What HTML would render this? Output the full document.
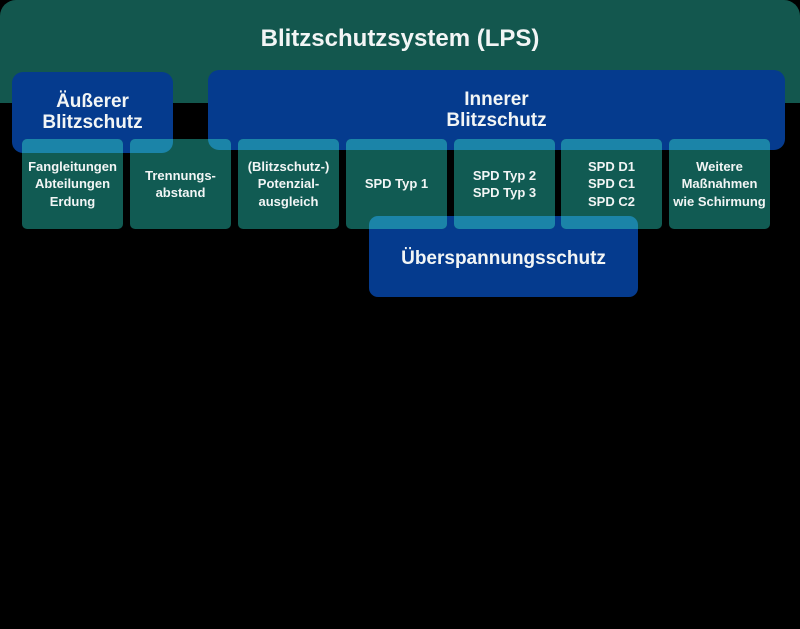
<!DOCTYPE html>
<html><head><meta charset="utf-8">
<style>
html,body{margin:0;padding:0;background:#000;}
body{width:800px;height:629px;position:relative;overflow:hidden;font-family:"Liberation Sans",sans-serif;font-weight:bold;color:#f2f5f5;}
.abs{position:absolute;}
.green{left:0;top:0;width:800px;height:103px;background:#13574e;border-radius:16px 16px 0 0;}
.title{left:0;top:24px;width:800px;text-align:center;font-size:24px;line-height:30px;}
.blue{background:#053b8e;border-radius:11px;display:flex;align-items:center;justify-content:center;text-align:center;font-size:19px;line-height:21px;}
.cell{background:#115b53;border-radius:5px;overflow:hidden;width:101px;height:90px;top:139px;}
.cell .ov{position:absolute;background:#1b84a8;border-radius:11px;}
.cell .t{position:absolute;left:0;top:0;width:100%;height:100%;display:flex;align-items:center;justify-content:center;text-align:center;font-size:13px;line-height:17.5px;}
</style></head><body>
<div class="abs green"></div>
<div class="abs title">Blitzschutzsystem (LPS)</div>

<div class="abs blue" style="left:12px;top:72px;width:161px;height:81px;padding-top:0px;padding-bottom:1px;box-sizing:border-box;">Äußerer<br>Blitzschutz</div>
<div class="abs blue" style="left:208px;top:70px;width:577px;height:80px;padding-bottom:0px;box-sizing:border-box;">Innerer<br>Blitzschutz</div>
<div class="abs blue" style="left:369px;top:216px;width:269px;height:81px;border-radius:9px;padding-top:4px;box-sizing:border-box;">Überspannungsschutz</div>

<!-- cell 1 -->
<div class="abs cell" style="left:22px;">
  <div class="ov" style="left:-10px;top:-67px;width:161px;height:81px;"></div>
  <div class="t">Fangleitungen<br>Abteilungen<br>Erdung</div>
</div>
<!-- cell 2 -->
<div class="abs cell" style="left:130px;">
  <div class="ov" style="left:-118px;top:-67px;width:161px;height:81px;"></div>
  <div class="ov" style="left:78px;top:-69px;width:577px;height:80px;"></div>
  <div class="t">Trennungs-<br>abstand</div>
</div>
<!-- cell 3 -->
<div class="abs cell" style="left:238px;">
  <div class="ov" style="left:-30px;top:-69px;width:577px;height:80px;"></div>
  <div class="t">(Blitzschutz-)<br>Potenzial-<br>ausgleich</div>
</div>
<!-- cell 4 -->
<div class="abs cell" style="left:346px;">
  <div class="ov" style="left:-138px;top:-69px;width:577px;height:80px;"></div>
  <div class="ov" style="left:23px;top:77px;width:269px;height:81px;border-radius:9px;"></div>
  <div class="t">SPD Typ 1</div>
</div>
<!-- cell 5 -->
<div class="abs cell" style="left:454px;">
  <div class="ov" style="left:-246px;top:-69px;width:577px;height:80px;"></div>
  <div class="ov" style="left:-85px;top:77px;width:269px;height:81px;border-radius:9px;"></div>
  <div class="t">SPD Typ 2<br>SPD Typ 3</div>
</div>
<!-- cell 6 -->
<div class="abs cell" style="left:561px;">
  <div class="ov" style="left:-353px;top:-69px;width:577px;height:80px;"></div>
  <div class="ov" style="left:-192px;top:77px;width:269px;height:81px;border-radius:9px;"></div>
  <div class="t">SPD D1<br>SPD C1<br>SPD C2</div>
</div>
<!-- cell 7 -->
<div class="abs cell" style="left:669px;">
  <div class="ov" style="left:-461px;top:-69px;width:577px;height:80px;"></div>
  <div class="t">Weitere<br>Maßnahmen<br>wie Schirmung</div>
</div>
</body></html>
